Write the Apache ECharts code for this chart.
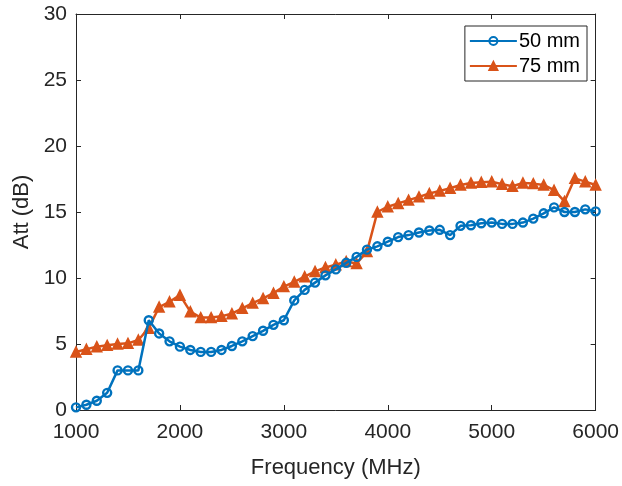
<!DOCTYPE html>
<html>
<head>
<meta charset="utf-8">
<script src="https://cdn.jsdelivr.net/npm/echarts@6/dist/echarts.min.js"></script>
<style>
  html, body { margin: 0; padding: 0; background: #fff; }
  #chart { width: 622px; height: 486px; }
</style>
</head>
<body>
<div id="chart"></div>
<script>
// frequency points (MHz)
const freq = [
  1000, 1100, 1200, 1300, 1400, 1500, 1600, 1700, 1800, 1900,
  2000, 2100, 2200, 2300, 2400, 2500, 2600, 2700, 2800, 2900,
  3000, 3100, 3200, 3300, 3400, 3500, 3600, 3700, 3800, 3900,
  4000, 4100, 4200, 4300, 4400, 4500, 4600, 4700, 4800, 4900,
  5000, 5100, 5200, 5300, 5400, 5500, 5600, 5700, 5800, 5900, 6000
];
// attenuation (dB)
const att50 = [
  0.2, 0.4, 0.7, 1.3, 3.0, 3.0, 3.0, 6.8, 5.8, 5.2,
  4.8, 4.55, 4.4, 4.4, 4.55, 4.85, 5.2, 5.6, 6.0, 6.45,
  6.8, 8.3, 9.1, 9.65, 10.2, 10.65, 11.15, 11.6, 12.15, 12.4,
  12.75, 13.1, 13.25, 13.45, 13.6, 13.65, 13.25, 13.95, 14.0, 14.15,
  14.2, 14.1, 14.1, 14.2, 14.5, 14.9, 15.35, 15.0, 15.0, 15.2, 15.05
];
const att75 = [
  4.4, 4.6, 4.8, 4.9, 5.0, 5.05, 5.3, 6.2, 7.8, 8.2,
  8.7, 7.45, 7.0, 7.0, 7.1, 7.3, 7.7, 8.1, 8.45, 8.85,
  9.35, 9.7, 10.1, 10.5, 10.8, 11.0, 11.25, 11.1, 12.0, 15.0,
  15.4, 15.65, 15.9, 16.15, 16.4, 16.6, 16.8, 17.05, 17.2, 17.25,
  17.3, 17.1, 16.95, 17.2, 17.15, 17.05, 16.65, 15.8, 17.55, 17.3, 17.05
];
const seriesNames = ['50 mm', '75 mm'];
const xTicks = [1000, 6000, 1000]; // min, max, step
const yTicks = [0, 30, 5];

const font = 'Liberation Sans, Arial, sans-serif';
const axisColor = '#262626';

function pairs(ys) {
  return freq.map((f, i) => [f, ys[i]]);
}

function boxAxis(pos, range, labels, extra) {
  return Object.assign({
    type: 'value',
    position: pos,
    min: range[0],
    max: range[1],
    interval: range[2],
    axisLine: { show: true, onZero: false, lineStyle: { color: axisColor, width: 1 } },
    axisTick: { show: true, inside: true, length: 5, lineStyle: { color: axisColor } },
    axisLabel: labels
      ? { show: true, color: axisColor, fontFamily: font, fontSize: 21, margin: pos === 'bottom' ? 12 : 9,
          formatter: v => String(v) }
      : { show: false },
    splitLine: { show: false }
  }, extra || {});
}

const chart = echarts.init(document.getElementById('chart'));
chart.setOption({
  backgroundColor: '#fff',
  animation: false,
  grid: { left: 76, right: 23, top: 14, bottom: 76 },
  legend: {
    data: seriesNames,
    orient: 'vertical',
    right: 35,
    top: 26,
    backgroundColor: '#fff',
    borderColor: axisColor,
    borderWidth: 1,
    borderRadius: 0,
    padding: [5, 7, 5, 4],
    itemWidth: 47,
    itemHeight: 10,
    itemGap: 5,
    textStyle: { color: '#000', fontFamily: font, fontSize: 20, padding: [0, 0, 0, -3] }
  },
  xAxis: [
    boxAxis('bottom', xTicks, true, {
      name: 'Frequency (MHz)',
      nameLocation: 'middle',
      nameGap: 47,
      nameTextStyle: { color: axisColor, fontFamily: font, fontSize: 22 }
    }),
    boxAxis('top', xTicks, false)
  ],
  yAxis: [
    boxAxis('left', yTicks, true, {
      name: 'Att (dB)',
      nameLocation: 'middle',
      nameGap: 42,
      nameTextStyle: { color: axisColor, fontFamily: font, fontSize: 22 }
    }),
    boxAxis('right', yTicks, false)
  ],
  series: [
    {
      name: seriesNames[0],
      type: 'line',
      data: pairs(att50),
      symbol: 'circle',
      symbolSize: 8,
      lineStyle: { color: '#0072BD', width: 2.5 },
      itemStyle: { color: 'rgba(255,255,255,0)', borderColor: '#0072BD', borderWidth: 2.4 },
      z: 3
    },
    {
      name: seriesNames[1],
      type: 'line',
      data: pairs(att75),
      symbol: 'triangle',
      symbolSize: 10,
      lineStyle: { color: '#D95319', width: 2.5 },
      itemStyle: { color: '#D95319', borderColor: '#D95319', borderWidth: 1.5 },
      z: 2
    }
  ]
});
</script>
</body>
</html>
